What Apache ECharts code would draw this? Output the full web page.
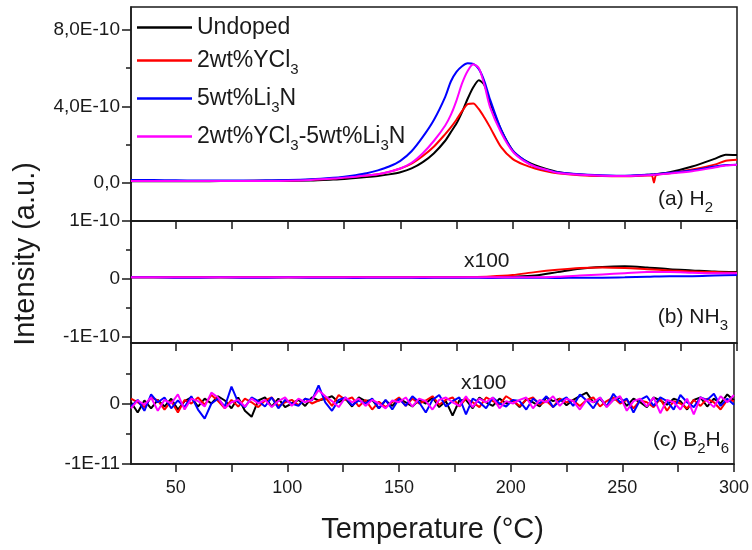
<!DOCTYPE html>
<html>
<head>
<meta charset="utf-8">
<script src="https://cdn.jsdelivr.net/npm/echarts@6/dist/echarts.min.js"></script>
<style>
  html, body { margin: 0; padding: 0; background: #fff; }
  #chart { width: 752px; height: 550px; }
</style>
</head>
<body>
<div id="chart"></div>
<script>
// ---- Sample names ----
const seriesNames = ['Undoped', '2wt%YCl3', '5wt%Li3N', '2wt%YCl3-5wt%Li3N'];
const seriesColors = ['#000000', '#ff0000', '#0000ff', '#ff00ff'];

// ---- (a) H2 signal, in units of 1E-10 ----
const tempA = [30, 40, 50, 60, 70, 80, 90, 100, 110, 120, 125, 130, 135, 140, 145, 150, 155, 160, 165, 170,
  172.5, 175, 177.5, 180, 182.5, 185, 187.5, 190, 195, 200, 205, 210, 215, 220, 230, 240, 250, 260,
  262, 263, 264, 270, 280, 290, 295, 300];
const h2Undoped = [0.08, 0.08, 0.08, 0.08, 0.09, 0.09, 0.1, 0.1, 0.12, 0.17, 0.2, 0.25, 0.3, 0.36, 0.44, 0.55, 0.75, 1.08, 1.55, 2.2,
  2.65, 3.1, 3.7, 4.4, 5.0, 5.37, 5.1, 4.2, 2.75, 1.7, 1.2, 0.92, 0.72, 0.57, 0.43, 0.36, 0.35, 0.42,
  0.43, 0.44, 0.45, 0.55, 0.85, 1.25, 1.47, 1.45];
const h2YCl3 = [0.1, 0.1, 0.1, 0.1, 0.1, 0.1, 0.11, 0.12, 0.16, 0.23, 0.28, 0.33, 0.38, 0.45, 0.57, 0.75, 1.0, 1.4, 1.9, 2.55,
  2.9, 3.3, 3.75, 4.12, 4.15, 3.85, 3.4, 2.9, 1.85, 1.25, 0.95, 0.75, 0.6, 0.5, 0.4, 0.35, 0.34, 0.38,
  0.39, 0.02, 0.4, 0.5, 0.7, 0.95, 1.15, 1.2];
const h2Li3N = [0.15, 0.14, 0.13, 0.12, 0.12, 0.12, 0.13, 0.14, 0.18, 0.26, 0.32, 0.4, 0.5, 0.65, 0.85, 1.15, 1.65, 2.4, 3.3, 4.5,
  5.3, 5.8, 6.1, 6.25, 6.22, 5.95, 5.3, 4.35, 2.75, 1.7, 1.2, 0.85, 0.68, 0.55, 0.45, 0.4, 0.37, 0.42,
  0.43, 0.44, 0.45, 0.52, 0.65, 0.85, 0.93, 0.95];
const h2Both = [0.1, 0.1, 0.1, 0.1, 0.1, 0.1, 0.1, 0.11, 0.15, 0.22, 0.27, 0.32, 0.38, 0.45, 0.58, 0.75, 1.05, 1.55, 2.2, 3.0,
  3.55, 4.3, 5.2, 5.85, 6.2, 6.0, 5.1, 3.95, 2.6, 1.65, 1.15, 0.85, 0.68, 0.52, 0.42, 0.37, 0.36, 0.4,
  0.41, 0.42, 0.43, 0.48, 0.6, 0.8, 0.9, 0.95];

// ---- (b) NH3 signal x100, in units of 1E-10 ----
const tempB = [30, 40, 50, 60, 70, 80, 90, 100, 110, 120, 130, 140, 150, 160, 170, 180, 190, 200,
  210, 220, 230, 240, 250, 260, 270, 280, 290, 300];
const nh3Undoped = [0.03, 0.03, 0.03, 0.03, 0.03, 0.03, 0.03, 0.03, 0.03, 0.03, 0.03, 0.03, 0.03, 0.03, 0.03, 0.03, 0.03, 0.04,
  0.06, 0.12, 0.18, 0.21, 0.22, 0.2, 0.17, 0.15, 0.13, 0.12];
const nh3YCl3 = [0.03, 0.03, 0.03, 0.03, 0.03, 0.03, 0.03, 0.03, 0.03, 0.03, 0.03, 0.03, 0.03, 0.03, 0.03, 0.035, 0.045, 0.07,
  0.12, 0.16, 0.19, 0.2, 0.19, 0.17, 0.15, 0.13, 0.12, 0.11];
const nh3Li3N = [0.03, 0.03, 0.025, 0.025, 0.03, 0.025, 0.025, 0.03, 0.025, 0.025, 0.02, 0.025, 0.025, 0.02, 0.025, 0.025, 0.02, 0.025,
  0.025, 0.02, 0.025, 0.025, 0.03, 0.04, 0.05, 0.05, 0.06, 0.07];
const nh3Both = [0.03, 0.03, 0.03, 0.03, 0.03, 0.03, 0.03, 0.03, 0.03, 0.03, 0.03, 0.03, 0.03, 0.03, 0.03, 0.03, 0.03, 0.03,
  0.03, 0.04, 0.06, 0.08, 0.1, 0.12, 0.12, 0.11, 0.1, 0.1];

// ---- (c) B2H6 signal x100, in units of 1E-11 ----
const tempC = [30, 33, 36, 39, 42, 45, 48, 51, 54, 57, 60, 63, 66, 69, 72, 75, 78, 81, 84, 87,
  90, 93, 96, 99, 102, 105, 108, 111, 114, 117, 120, 123, 126, 129, 132, 135, 138, 141, 144, 147,
  150, 153, 156, 159, 162, 165, 168, 171, 174, 177, 180, 183, 186, 189, 192, 195, 198, 201, 204, 207,
  210, 213, 216, 219, 222, 225, 228, 231, 234, 237, 240, 243, 246, 249, 252, 255, 258, 261, 264, 267,
  270, 273, 276, 279, 282, 285, 288, 291, 294, 297, 300];
const b2h6Undoped = [0.02, -0.15, 0.05, -0.08, 0.06, -0.05, 0.08, -0.1, 0.04, 0.1,
  -0.05, 0.08, 0.0, 0.12, 0.05, -0.08, 0.1, -0.12, -0.22, 0.05,
  0.1, -0.05, 0.08, -0.06, 0.0, 0.06, -0.04, 0.1, 0.05, 0.08,
  0.12, 0.02, 0.08, -0.05, 0.1, 0.04, 0.06, -0.08, 0.05, -0.04,
  0.08, 0.02, -0.05, 0.06, 0.0, 0.1, -0.06, 0.04, -0.2, 0.05,
  0.06, -0.08, 0.1, 0.02, -0.04, 0.08, 0.0, 0.05, -0.06, 0.07,
  0.02, -0.05, 0.1, 0.04, 0.08, -0.03, 0.06, 0.12, 0.18, 0.02,
  0.08, -0.05, 0.06, 0.1, -0.04, 0.08, 0.02, -0.06, 0.1, 0.05,
  -0.02, 0.08, 0.04, -0.1, 0.06, 0.1, -0.05, 0.08, 0.0, 0.15, 0.05];
const b2h6YCl3 = [0.08, 0.02, -0.06, 0.1, 0.05, -0.1, 0.04, -0.15, 0.06, 0.0,
  0.1, -0.02, 0.14, 0.04, -0.08, 0.06, -0.05, 0.08, 0.02, -0.06,
  0.05, 0.1, -0.04, 0.02, 0.06, -0.03, 0.08, 0.0, 0.05, 0.1,
  -0.04, 0.14, 0.06, 0.1, -0.05, 0.06, -0.1, 0.03, -0.06, 0.02,
  0.1, -0.04, 0.08, 0.0, 0.05, 0.12, -0.02, 0.06, 0.1, -0.05,
  0.08, 0.02, -0.06, 0.1, 0.04, -0.02, 0.12, 0.05, -0.04, 0.06,
  0.1, -0.02, 0.04, -0.06, 0.08, 0.02, 0.05, -0.04, 0.06, 0.1,
  -0.05, 0.04, 0.1, 0.0, 0.06, -0.08, 0.05, 0.02, -0.06, 0.08,
  -0.12, 0.04, 0.0, -0.08, 0.06, -0.04, 0.08, 0.02, -0.1, 0.06, 0.04];
const b2h6Li3N = [-0.05, 0.06, -0.12, 0.15, 0.02, 0.1, -0.08, 0.05, -0.06, 0.12,
  -0.1, -0.25, 0.0, 0.08, -0.05, 0.28, 0.02, -0.06, 0.1, 0.04,
  -0.05, 0.1, -0.08, 0.06, 0.0, -0.04, 0.08, 0.05, 0.3, 0.02,
  -0.12, 0.06, 0.1, -0.03, 0.05, 0.0, 0.08, -0.08, 0.06, -0.1,
  0.08, -0.04, 0.12, 0.02, -0.15, 0.06, 0.14, -0.05, 0.04, 0.1,
  -0.18, 0.08, 0.02, -0.08, 0.1, 0.0, -0.05, 0.06, 0.04, -0.1,
  0.08, 0.0, 0.12, -0.06, 0.04, 0.1, -0.04, 0.15, 0.05, -0.08,
  0.1, -0.05, 0.16, 0.02, 0.08, -0.15, 0.06, 0.12, -0.04, 0.1,
  0.04, -0.1, 0.14, 0.02, -0.06, 0.1, 0.06, 0.16, -0.04, 0.08, -0.02];
const b2h6Both = [-0.08, 0.05, -0.02, 0.1, -0.12, 0.06, 0.0, 0.15, -0.1, 0.08,
  0.04, -0.05, 0.18, 0.1, -0.08, 0.02, 0.06, -0.05, 0.08, 0.0,
  0.06, -0.06, 0.04, 0.1, -0.04, 0.08, 0.02, 0.06, 0.22, 0.12,
  0.04, -0.06, 0.1, 0.02, 0.08, -0.04, 0.06, 0.0, -0.08, 0.05,
  0.02, 0.1, -0.05, 0.08, 0.04, -0.1, 0.06, 0.1, 0.02, -0.04,
  0.12, -0.06, 0.08, 0.02, 0.1, -0.08, 0.04, 0.0, 0.06, 0.1,
  -0.08, 0.06, 0.02, 0.12, -0.04, 0.08, 0.04, -0.1, 0.06, 0.02,
  0.1, -0.06, 0.06, 0.12, -0.12, 0.04, 0.08, -0.05, 0.1, -0.16,
  0.06, 0.02, -0.1, 0.08, -0.18, 0.1, 0.04, -0.06, 0.12, 0.02, 0.14];

// ---- Ticks and tick labels ----
const xTicks = [50, 75, 100, 125, 150, 175, 200, 225, 250, 275, 300];
const xLabels = [50, 100, 150, 200, 250, 300];
const yTicksA = [0, 4, 8];
const yLabelsA = ['0,0', '4,0E-10', '8,0E-10'];
const yMinorA = [2, 6];
const yTicksB = [-1, 0, 1];
const yLabelsB = ['-1E-10', '0', '1E-10'];
const yMinorB = [-0.5, 0.5];
const yTicksC = [-1, 0];
const yLabelsC = ['-1E-11', '0'];
const yMinorC = [-0.5, 0.5];

const FONT = 'Liberation Sans, Arial, sans-serif';
const INK = '#1a1a1a';

// put the digit after Cl / Li into a subscript run
function legendText(s) {
  return s.replace(/(Cl|Li)3/g, '$1{s|3}');
}

const richSub = {
  s: { fontSize: 15, fontFamily: FONT, color: INK, padding: [18, 0, 0, 0] }
};

const panels = [
  { top: 7, height: 214, min: -2, max: 9.2, ticks: yTicksA, labels: yLabelsA, minor: yMinorA,
    x: tempA, data: [h2Undoped, h2YCl3, h2Li3N, h2Both] },
  { top: 221, height: 122, min: -1.1, max: 1, ticks: yTicksB, labels: yLabelsB, minor: yMinorB,
    x: tempB, data: [nh3Undoped, nh3YCl3, nh3Li3N, nh3Both] },
  { top: 343, height: 121, min: -1, max: 1, ticks: yTicksC, labels: yLabelsC, minor: yMinorC,
    x: tempC, data: [b2h6Undoped, b2h6YCl3, b2h6Li3N, b2h6Both] }
];

const grid = [], xAxis = [], yAxis = [], series = [];
panels.forEach(function (p, i) {
  grid.push({ left: 131, top: p.top, width: 606, height: p.height, show: true,
    borderColor: INK, borderWidth: 1.5, backgroundColor: 'transparent' });
  const last = i === panels.length - 1;
  xAxis.push({
    type: 'value', gridIndex: i, min: 30, max: 300,
    axisLine: { show: true, onZero: false, lineStyle: { color: INK, width: 1.5 } },
    axisTick: { show: true, customValues: xTicks, length: 8, inside: false, lineStyle: { color: INK, width: 1.5 } },
    axisLabel: { show: last, customValues: xLabels, margin: 15, fontSize: 18, fontFamily: FONT, color: INK },
    splitLine: { show: false },
    name: last ? 'Temperature (\u00b0C)' : '',
    nameLocation: 'middle', nameGap: 51,
    nameTextStyle: { fontSize: 29, fontFamily: FONT, color: INK }
  });
  yAxis.push({
    type: 'value', gridIndex: i, min: p.min, max: p.max,
    axisLine: { show: true, onZero: false, lineStyle: { color: INK, width: 1.5 } },
    axisTick: { show: true, customValues: p.ticks, length: 9, lineStyle: { color: INK, width: 1.5 } },
    axisLabel: { show: true, customValues: p.ticks, margin: 11, fontSize: 19, fontFamily: FONT, color: INK,
      formatter: function (v) { return p.labels[p.ticks.indexOf(v)]; } },
    splitLine: { show: false }
  });
  seriesNames.forEach(function (name, k) {
    series.push({
      type: 'line', name: name, xAxisIndex: i, yAxisIndex: i,
      data: p.x.map(function (t, j) { return [t, p.data[k][j]]; }),
      symbol: 'none', smooth: i === 0 ? 0.25 : (i === 1 ? 0.3 : false),
      lineStyle: { color: seriesColors[k], width: 2 },
      itemStyle: { color: seriesColors[k] },
      animation: false
    });
  });
});
// minor ticks on the intensity axes
panels.forEach(function (p, i) {
  yAxis.push({
    type: 'value', gridIndex: i, min: p.min, max: p.max, position: 'left',
    axisLine: { show: false },
    axisTick: { show: true, customValues: p.minor, length: 5, lineStyle: { color: INK, width: 1.5 } },
    axisLabel: { show: false },
    splitLine: { show: false }
  });
});

const annotations = [
  { text: '(a) H{s|2}', x: 713, y: 199, align: 'right' },
  { text: '(b) NH{s|3}', x: 728, y: 317, align: 'right' },
  { text: '(c) B{s|2}H{s|6}', x: 729, y: 440, align: 'right' },
  { text: 'x100', x: 464, y: 261, align: 'left' },
  { text: 'x100', x: 461, y: 383, align: 'left' }
];

const graphic = annotations.map(function (a) {
  return {
    type: 'text', x: a.x, y: a.y, z: 100,
    style: { text: a.text, rich: richSub, font: '21px ' + FONT, fill: INK,
      align: a.align, verticalAlign: 'middle' }
  };
});
graphic.push({
  type: 'text', x: 26, y: 254, rotation: Math.PI / 2, z: 100,
  style: { text: 'Intensity (a.u.)', font: '29px ' + FONT, fill: INK, align: 'center', verticalAlign: 'middle' }
});

const chart = echarts.init(document.getElementById('chart'), null, { renderer: 'canvas' });
chart.setOption({
  backgroundColor: '#ffffff',
  animation: false,
  legend: {
    data: seriesNames,
    orient: 'vertical', left: 137, top: 16, padding: 0, itemGap: 10,
    icon: 'rect', itemWidth: 55, itemHeight: 2.5,
    formatter: legendText,
    textStyle: { fontSize: 23, fontFamily: FONT, color: INK, rich: { s: { fontSize: 15, fontFamily: FONT, color: INK, padding: [18, 0, 0, 0] } } }
  },
  grid: grid, xAxis: xAxis, yAxis: yAxis, series: series, graphic: graphic
});
</script>
</body>
</html>
